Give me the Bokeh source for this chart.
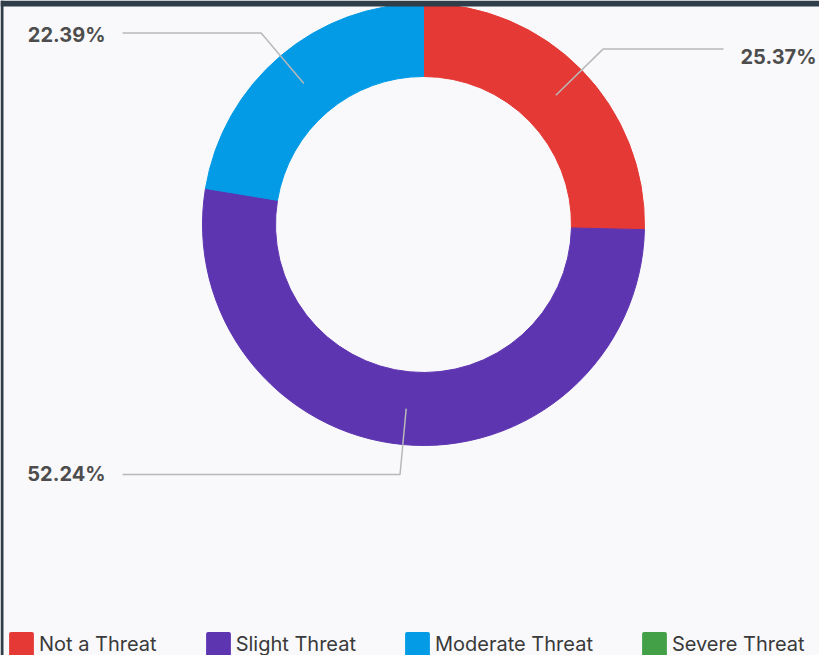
import numpy as np
from bokeh.plotting import figure
from bokeh.models import ColumnDataSource, Legend, LegendItem, Range1d
from bokeh.core.properties import value
from bokeh.embed import file_html
from bokeh.resources import INLINE

# ---- data ----
categories = ["Not a Threat", "Slight Threat", "Moderate Threat", "Severe Threat"]
percents = [25.37, 52.24, 22.39, 0.0]
colors = ["#e53935", "#5e35b1", "#039be5", "#43a047"]
labels = ["25.37%", "52.24%", "22.39%", ""]

# ---- layout ----
W, H = 819, 655
CX, CY = 423, H - 224
R_OUT, R_IN = 221, 148
BG = "#f9f9fb"
FRAME = "#2f3e48"
FONT = "Inter"

p = figure(width=W, height=H, x_range=Range1d(0, W), y_range=Range1d(0, H),
           output_backend="svg", toolbar_location=None, min_border=0)
p.axis.visible = False
p.grid.visible = False
p.outline_line_color = None
p.background_fill_color = BG
p.border_fill_color = BG

frac = np.array(percents) / 100.0
cum_end = np.cumsum(frac)
cum_start = cum_end - frac
start_angle = np.pi / 2 - 2 * np.pi * cum_end
end_angle = np.pi / 2 - 2 * np.pi * cum_start
keep = frac > 0

src = ColumnDataSource(dict(
    start=start_angle[keep], end=end_angle[keep],
    color=[c for c, k in zip(colors, keep) if k],
))
p.annular_wedge(x=CX, y=CY, inner_radius=R_IN, outer_radius=R_OUT,
                start_angle="start", end_angle="end",
                fill_color="color", line_color="color", line_width=1, source=src)

# ---- leader lines and labels ----
mid = (cum_start + cum_end) / 2
theta = 2 * np.pi * mid
xs, ys, tx, ty, ta, tt = [], [], [], [], [], []
offsets = [-8, 0, -2, 0]
for i in range(len(categories)):
    if not keep[i]:
        continue
    s, c = np.sin(theta[i]), np.cos(theta[i])
    x1, y1 = CX + 185 * s, CY + 185 * c
    x2, y2 = CX + 251 * s, CY + 251 * c
    right = s > 0
    x3 = 723 if right else 122
    xs.append([x1, x2, x3])
    ys.append([y1, y2, y2])
    tx.append(x3 + 17 if right else x3 - 17)
    ty.append(y2 + offsets[i])
    ta.append("left" if right else "right")
    tt.append(labels[i])

p.multi_line(xs=xs, ys=ys, line_color="#b8b8b8", line_width=1.5)
p.text(x=tx, y=ty, text=tt, text_align=ta, text_baseline="middle",
       text_font=value(FONT), text_font_size="20px", text_font_style="bold",
       text_color="#4d4d4d")

# ---- screenshot frame edges ----
p.quad(left=[0], right=[W], bottom=[H - 6], top=[H], fill_color=FRAME, line_color=None)
p.quad(left=[0], right=[3], bottom=[0], top=[H], fill_color=FRAME, line_color=None)

# ---- legend ----
items = []
for cat, col in zip(categories, colors):
    r = p.quad(left=[-50], right=[-40], top=[-40], bottom=[-50], fill_color=col,
               line_color=col, line_width=4, line_join="round")
    items.append(LegendItem(label=cat, renderers=[r]))

legend = Legend(items=items, orientation="horizontal", location=(8, -2),
                glyph_width=26, glyph_height=26, label_standoff=5, spacing=48,
                padding=0, margin=0, background_fill_alpha=0, border_line_color=None,
                label_text_font=FONT, label_text_font_size="20px",
                label_text_color="#3a3a3a", label_height=26)
p.add_layout(legend, "center")

open("out.html", "w").write(file_html(p, INLINE))
